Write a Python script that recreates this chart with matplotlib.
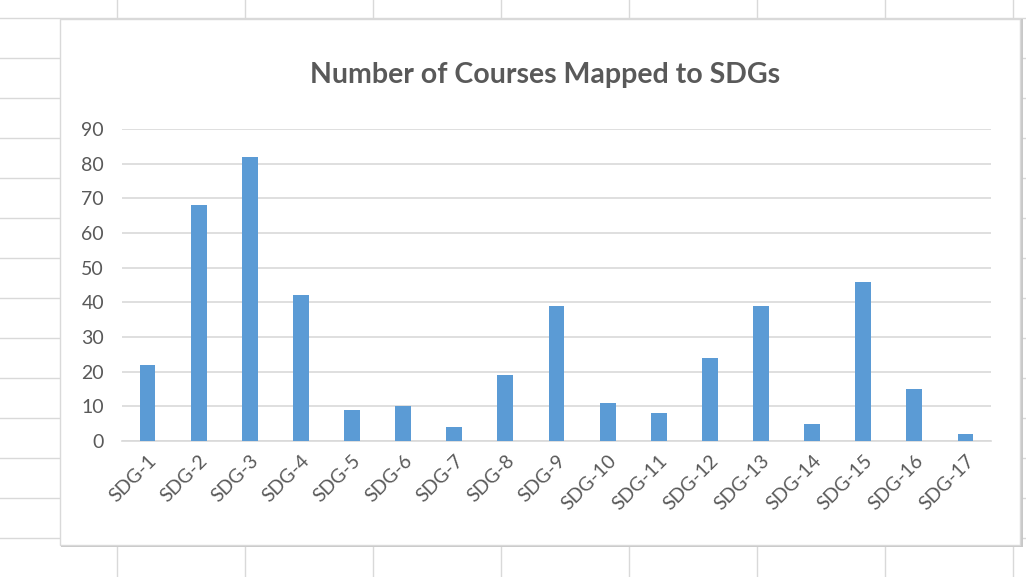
import matplotlib.pyplot as plt
from matplotlib.patches import Rectangle
from matplotlib.lines import Line2D

plt.rcParams['font.family'] = ['Lato', 'DejaVu Sans']

# datos
sdgs = ["SDG-1", "SDG-2", "SDG-3", "SDG-4", "SDG-5", "SDG-6", "SDG-7", "SDG-8", "SDG-9",
        "SDG-10", "SDG-11", "SDG-12", "SDG-13", "SDG-14", "SDG-15", "SDG-16", "SDG-17"]
cursos = [22, 68, 82, 42, 9, 10, 4, 19, 39, 11, 8, 24, 39, 5, 46, 15, 2]
y_ticks = [0, 10, 20, 30, 40, 50, 60, 70, 80, 90]

gris = "#595959"
linea = "#d9d9d9"
azul = "#5b9bd5"

W, H = 1026, 577
fig = plt.figure(figsize=(W / 100, H / 100), dpi=100)
fig.patch.set_facecolor("white")

# fondo de hoja de calculo (lineas de celdas)
for y in range(18, H, 40):
    fig.add_artist(Line2D([0, 1], [1 - y / H, 1 - y / H], color=linea, lw=1, zorder=0))
for x in range(117, W, 128):
    fig.add_artist(Line2D([x / W, x / W], [0, 1], color=linea, lw=1, zorder=0))

# caja del grafico
fig.add_artist(Rectangle((61 / W, 1 - 547 / H), 962 / W, 528 / H, facecolor="#c8c8c8",
                         edgecolor="none", zorder=1))
fig.add_artist(Rectangle((60 / W, 1 - 545 / H), 960 / W, 526 / H, facecolor="white",
                         edgecolor=linea, lw=1, zorder=2))

ax = fig.add_axes([122 / W, 1 - 441 / H, 869 / W, 312 / H], zorder=3)
ax.patch.set_alpha(0)
x = range(len(sdgs))
ax.bar(x, cursos, width=0.31, color=azul, zorder=3)
ax.set_xlim(-0.5, len(sdgs) - 0.5)
ax.set_ylim(0, 90)
ax.set_yticks(y_ticks)
ax.grid(axis='y', color=linea, lw=1.2, zorder=0)
ax.set_xticks(list(x))
ax.set_xticklabels(sdgs, rotation=45, ha='right', rotation_mode='anchor')
ax.tick_params(axis='both', length=0, colors=gris, labelsize=14)
ax.tick_params(axis='y', pad=13)
ax.tick_params(axis='x', pad=8)
for s in ['top', 'right', 'left']:
    ax.spines[s].set_visible(False)
ax.spines['bottom'].set_color(linea)
ax.spines['bottom'].set_linewidth(1.2)

fig.text(545 / W, 1 - 75 / H, "Number of Courses Mapped to SDGs", ha='center', va='center',
         fontsize=20.5, fontweight='bold', color=gris, zorder=4)

fig.savefig("out.png", dpi=100)
